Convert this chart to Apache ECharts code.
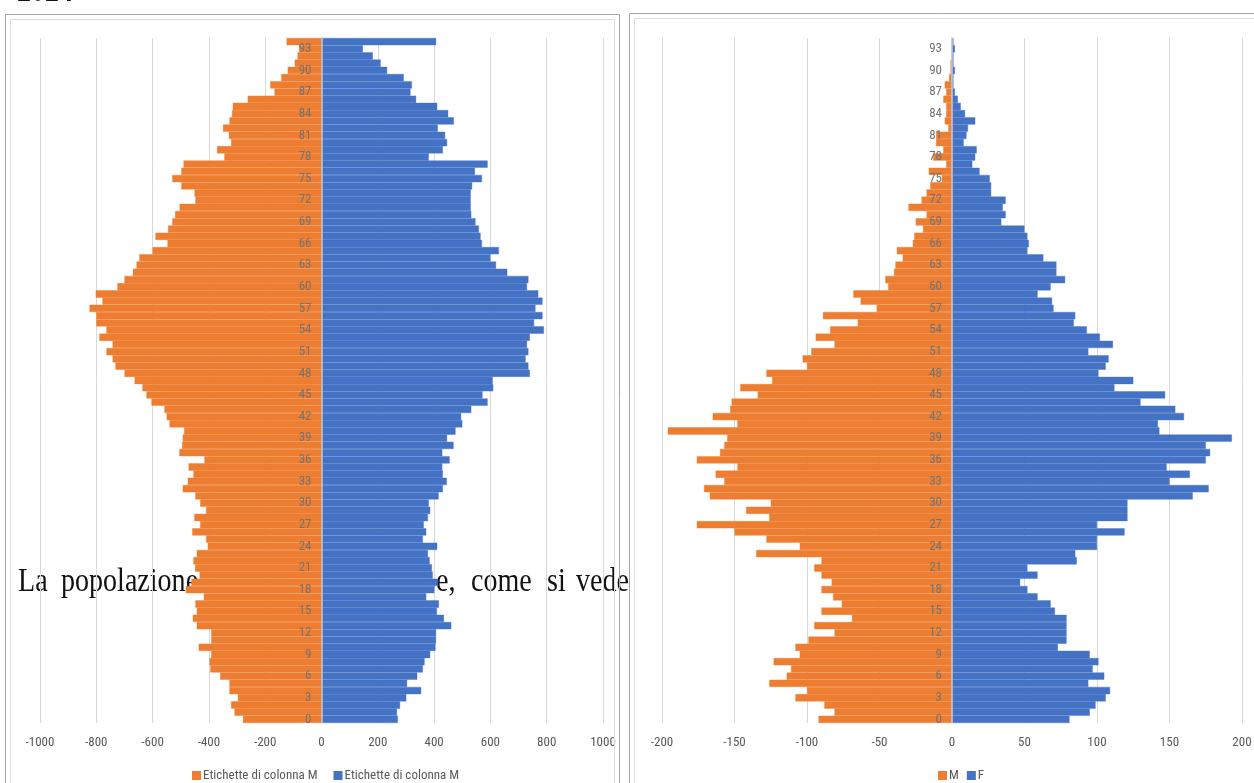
<!DOCTYPE html>
<html>
<head>
<meta charset="utf-8">
<script src="https://cdn.jsdelivr.net/npm/echarts@6/dist/echarts.min.js"></script>
<style>
  html, body { margin: 0; padding: 0; background: #ffffff; }
  #chart { width: 1254px; height: 783px; }
</style>
</head>
<body>
<div id="chart"></div>
<script>
// Age classes (0 .. 94)
const ages = ['0','1','2','3','4','5','6','7','8','9',
  '10','11','12','13','14','15','16','17','18','19',
  '20','21','22','23','24','25','26','27','28','29',
  '30','31','32','33','34','35','36','37','38','39',
  '40','41','42','43','44','45','46','47','48','49',
  '50','51','52','53','54','55','56','57','58','59',
  '60','61','62','63','64','65','66','67','68','69',
  '70','71','72','73','74','75','76','77','78','79',
  '80','81','82','83','84','85','86','87','88','89',
  '90','91','92','93','94'];

// Left pyramid: orange (negative side) and blue columns
const leftOrange = [-279,-309,-321,-297,-327,-327,-360,-395,-398,-392,
  -436,-392,-392,-443,-457,-443,-448,-418,-482,-462,
  -433,-449,-455,-443,-404,-410,-459,-431,-452,-410,
  -431,-448,-493,-475,-455,-472,-416,-505,-495,-493,
  -488,-540,-550,-558,-604,-622,-636,-664,-700,-732,
  -742,-764,-742,-789,-764,-800,-800,-824,-778,-802,
  -725,-700,-670,-657,-647,-600,-547,-590,-545,-530,
  -520,-504,-448,-451,-498,-530,-498,-490,-345,-371,
  -321,-329,-350,-327,-318,-315,-262,-167,-182,-143,
  -120,-95,-85,-80,-124];
const leftBlue = [271,268,279,301,354,304,340,360,366,386,
  405,407,407,461,435,410,417,372,401,413,
  395,392,384,378,411,360,372,363,378,386,
  381,416,431,445,431,429,455,429,469,446,
  476,500,496,532,590,572,610,608,740,735,
  725,735,730,740,790,755,785,760,785,770,
  730,735,660,620,600,630,570,565,559,547,
  532,530,530,530,535,570,545,590,381,431,
  446,439,413,470,450,411,336,316,321,292,
  233,210,182,147,407];

// Right pyramid: M (negative side) and F
const rightM = [-92,-81,-88,-108,-100,-126,-114,-111,-123,-105,
  -108,-99,-81,-95,-69,-90,-76,-82,-90,-83,
  -90,-95,-90,-135,-105,-128,-150,-176,-126,-142,
  -125,-167,-171,-157,-163,-148,-176,-160,-157,-155,
  -196,-148,-165,-153,-152,-134,-146,-124,-128,-100,
  -103,-97,-81,-94,-84,-65,-89,-52,-63,-68,
  -44,-46,-40,-39,-34,-38,-27,-26,-20,-25,
  -17.5,-30,-21,-17.5,-15,-7,-16,-4,-13,-6,
  -11,-11,-2.5,-5,-4,-4,-6,-4,-5,-2,
  -1,-1,0,0,0];
const rightF = [81,95,99,106,109,94,105,97,101,95,
  73,79,79,79,79,71,68,59,52,47,
  59,52,86,85,100,100,119,100,121,121,
  121,166,177,150,164,148,175,178,175,193,
  143,142,160,154,130,147,112,125,101,106,
  108,94,111,102,93,84,85,70,69,59,
  68,78,72,72,63,52,53,52,50,34,
  37,35,37,27,27,26,19,14,16,17,
  8,10,11,16,9,6,4,2,1,1,
  2,1,1,2,1];

const legendLeftLabel = 'Etichette di colonna M';

const ORANGE = '#ED7D31';
const BLUE = '#4472C4';
const LABEL = '#595959';
const GRIDLINE = '#d9d9d9';
const SANS = "'Liberation Sans Narrow', 'Roboto Condensed', Roboto, 'Liberation Sans', sans-serif";
const SERIF = "'Liberation Serif', 'DejaVu Serif', serif";

function valueAxis(gridIndex, min, max, interval) {
  return {
    type: 'value', gridIndex, min, max, interval, z: 2,
    axisLine: { show: false },
    axisTick: { show: false },
    splitLine: { show: true, lineStyle: { color: GRIDLINE, width: 1 } },
    axisLabel: { color: LABEL, fontSize: 13, fontFamily: SANS, margin: 13, formatter: v => String(v) }
  };
}
// Category axis drawn at the zero of the value axis (offset from the grid's left edge)
function ageAxis(gridIndex, zeroOffset) {
  return {
    type: 'category', gridIndex, data: ages, z: 6,
    position: 'left', offset: -zeroOffset,
    axisLine: { show: true, onZero: false, lineStyle: { color: '#c8c8c8', width: 1.5 } },
    axisTick: { show: false },
    splitLine: { show: false },
    axisLabel: { interval: 2, color: '#727272', fontSize: 13, fontFamily: SANS, margin: 10 }
  };
}
function barSeries(name, data, color, xi) {
  return {
    type: 'bar', name, data, xAxisIndex: xi, yAxisIndex: xi,
    barGap: '-100%', barCategoryGap: 0, z: 5,
    itemStyle: { color, borderColor: color, borderWidth: 0.4 },
    emphasis: { disabled: true }, animation: false
  };
}

// Body text placed word by word (justified line), drawn under the charts
function word(text, x, y, extra) {
  return Object.assign({
    type: 'text', x, y, z: 0, scaleX: 0.85, silent: true,
    style: { text, font: '33px ' + SERIF, fill: '#111111', verticalAlign: 'middle' }
  }, extra || {});
}

const graphic = [
  word('2024', 17, -8, { style: { text: '2024', font: 'bold 33px ' + SERIF, fill: '#111111', verticalAlign: 'middle' } }),
  word('La', 18, 582),
  word('popolazione', 61, 582),
  word('e,', 436, 582),
  word('come', 471, 582),
  word('si', 547, 582),
  word('vede', 576, 582),
  // right chart area background (hides the text behind it)
  { type: 'rect', z: 1, silent: true, shape: { x: 629, y: 13, width: 640, height: 800 }, style: { fill: '#ffffff' } },
  // chart frames
  { type: 'rect', z: 10, silent: true, shape: { x: 5.5, y: 14.5, width: 614, height: 800 }, style: { fill: 'none', stroke: '#a6a6a6', lineWidth: 1 } },
  { type: 'rect', z: 10, silent: true, shape: { x: 10.5, y: 19.5, width: 604, height: 800 }, style: { fill: 'none', stroke: '#dcdcdc', lineWidth: 1 } },
  { type: 'rect', z: 10, silent: true, shape: { x: 629.5, y: 13.5, width: 640, height: 800 }, style: { fill: 'none', stroke: '#a6a6a6', lineWidth: 1 } },
  { type: 'rect', z: 10, silent: true, shape: { x: 634.5, y: 18.5, width: 640, height: 800 }, style: { fill: 'none', stroke: '#dcdcdc', lineWidth: 1 } }
];

const chart = echarts.init(document.getElementById('chart'), null, { renderer: 'canvas' });
chart.setOption({
  animation: false,
  backgroundColor: '#ffffff',
  textStyle: { fontFamily: SANS },
  graphic: { elements: graphic },
  grid: [
    { left: 40, right: 651, top: 38, bottom: 60, containLabel: false, outerBoundsMode: 'none' },
    { left: 662, right: 12, top: 38, bottom: 60, containLabel: false, outerBoundsMode: 'none' }
  ],
  xAxis: [valueAxis(0, -1000, 1000, 200), valueAxis(1, -200, 200, 50)],
  yAxis: [ageAxis(0, 281.5), ageAxis(1, 290)],
  legend: [
    {
      data: ['colonnaA', 'colonnaB'], left: 187, top: 764, orient: 'horizontal',
      icon: 'rect', itemWidth: 7, itemHeight: 7, itemGap: 16,
      formatter: () => legendLeftLabel, selectedMode: false,
      textStyle: { color: LABEL, fontSize: 13, fontFamily: SANS, padding: [0, 0, 0, -2] }
    },
    {
      data: ['M', 'F'], left: 933, top: 764, orient: 'horizontal',
      icon: 'rect', itemWidth: 7, itemHeight: 7, itemGap: 8, selectedMode: false,
      textStyle: { color: LABEL, fontSize: 13, fontFamily: SANS, padding: [0, 0, 0, -2] }
    }
  ],
  series: [
    barSeries('colonnaA', leftOrange, ORANGE, 0),
    barSeries('colonnaB', leftBlue, BLUE, 0),
    barSeries('M', rightM, ORANGE, 1),
    barSeries('F', rightF, BLUE, 1)
  ]
});
</script>
</body>
</html>
